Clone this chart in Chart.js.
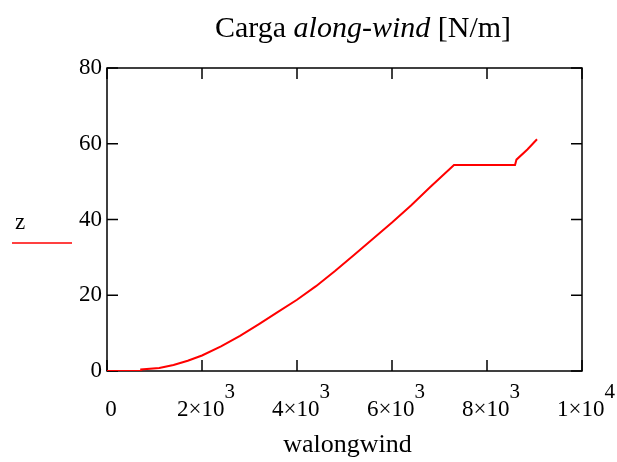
<!DOCTYPE html>
<html>
<head>
<meta charset="utf-8">
<script src="https://cdn.jsdelivr.net/npm/chart.js@4.4.0/dist/chart.umd.min.js"></script>
<style>
  html, body { margin: 0; padding: 0; background: #fff; }
  #wrap { width: 617px; height: 462px; }
</style>
</head>
<body>
<div id="wrap"><canvas id="myChart" width="617" height="462"></canvas></div>
<script>
// DATOS
const walongwind = [0, 720, 720, 1100, 1400, 1700, 2000, 2400, 2800, 3200, 3600, 4000, 4400, 4800, 5200, 5600, 6000, 6400, 6800, 7305, 8590, 8620, 8850, 9053];
const z          = [0, 0, 0.4, 0.8, 1.6, 2.7, 4.1, 6.5, 9.3, 12.4, 15.6, 18.8, 22.4, 26.4, 30.6, 34.9, 39.2, 43.7, 48.5, 54.4, 54.4, 55.8, 58.5, 61.2];

const xTickValues   = [0, 2000, 4000, 6000, 8000, 10000];
const xTickMantissa = ['0', '2×10', '4×10', '6×10', '8×10', '1×10'];
const xTickExponent = ['', '3', '3', '3', '3', '4'];
const yTickValues   = [0, 20, 40, 60, 80];

const titleParts = [['Carga ', ''], ['along-wind', 'italic '], [' [N/m]', '']];
const xTitle = 'walongwind';
const seriesName = 'z';

const serif = '"Liberation Serif", "Times New Roman", serif';

// PLUGIN: marco, ticks hacia adentro y textos
const decor = {
    id: 'decor',
    beforeDatasetsDraw(chart) {
        const ctx = chart.ctx;
        const a = chart.chartArea;
        const xs = chart.scales.x;
        const ys = chart.scales.y;
        const len = 11;
        ctx.save();
        ctx.strokeStyle = '#000';
        ctx.lineWidth = 1.5;
        ctx.strokeRect(a.left, a.top, a.right - a.left, a.bottom - a.top);
        ctx.beginPath();
        xTickValues.forEach((v) => {
            const px = xs.getPixelForValue(v);
            ctx.moveTo(px, a.bottom); ctx.lineTo(px, a.bottom - len);
            ctx.moveTo(px, a.top); ctx.lineTo(px, a.top + len);
        });
        yTickValues.forEach((v) => {
            const py = ys.getPixelForValue(v);
            ctx.moveTo(a.left, py); ctx.lineTo(a.left + len, py);
            ctx.moveTo(a.right, py); ctx.lineTo(a.right - len, py);
        });
        ctx.stroke();
        ctx.restore();
    },
    afterDraw(chart) {
        const ctx = chart.ctx;
        const a = chart.chartArea;
        const xs = chart.scales.x;
        ctx.save();
        ctx.fillStyle = '#000';
        ctx.textBaseline = 'alphabetic';
        ctx.textAlign = 'left';

        // titulo
        let total = 0;
        titleParts.forEach((p) => {
            ctx.font = p[1] + '30px ' + serif;
            total += ctx.measureText(p[0]).width;
        });
        let tx = 363 - total / 2;
        titleParts.forEach((p) => {
            ctx.font = p[1] + '30px ' + serif;
            ctx.fillText(p[0], tx, 37);
            tx += ctx.measureText(p[0]).width;
        });

        // etiquetas eje x con exponente
        xTickValues.forEach((v, i) => {
            const px = xs.getPixelForValue(v);
            ctx.font = '23px ' + serif;
            const mw = ctx.measureText(xTickMantissa[i]).width;
            ctx.font = '21px ' + serif;
            const ew = ctx.measureText(xTickExponent[i]).width;
            const start = px + 4 - (mw + ew) / 2;
            ctx.font = '23px ' + serif;
            ctx.fillText(xTickMantissa[i], start, a.bottom + 45);
            ctx.font = '21px ' + serif;
            ctx.fillText(xTickExponent[i], start + mw, a.bottom + 27);
        });

        // titulo eje x
        ctx.font = '26px ' + serif;
        ctx.textAlign = 'center';
        ctx.fillText(xTitle, (a.left + a.right) / 2 + 3, 452);

        // leyenda z
        ctx.textAlign = 'left';
        ctx.font = '23px ' + serif;
        ctx.fillText(seriesName, 15, 229);
        ctx.strokeStyle = '#ff0000';
        ctx.lineWidth = 1.5;
        ctx.beginPath();
        ctx.moveTo(12, 243);
        ctx.lineTo(72, 243);
        ctx.stroke();
        ctx.restore();
    }
};

const points = walongwind.map((w, i) => ({ x: w, y: z[i] }));

const config = {
    type: 'scatter',
    data: {
        datasets: [{
            label: seriesName,
            data: points,
            showLine: true,
            borderColor: '#ff0000',
            borderWidth: 2,
            pointRadius: 0,
            tension: 0
        }]
    },
    options: {
        responsive: false,
        animation: false,
        layout: { padding: { left: 0, right: 35, top: 68, bottom: 0 } },
        plugins: {
            legend: { display: false },
            tooltip: { enabled: false }
        },
        scales: {
            x: {
                type: 'linear',
                min: 0,
                max: 10000,
                ticks: { display: false, stepSize: 2000 },
                grid: { display: false },
                border: { display: false },
                afterFit: (scale) => { scale.height = 91; }
            },
            y: {
                type: 'linear',
                min: 0,
                max: 80,
                ticks: {
                    stepSize: 20,
                    padding: 5,
                    color: '#000',
                    font: { family: serif, size: 23 }
                },
                grid: { display: false, drawTicks: false },
                border: { display: false },
                afterFit: (scale) => { scale.width = 107; }
            }
        }
    },
    plugins: [decor]
};

const myChart = new Chart(document.getElementById('myChart'), config);
</script>
</body>
</html>
